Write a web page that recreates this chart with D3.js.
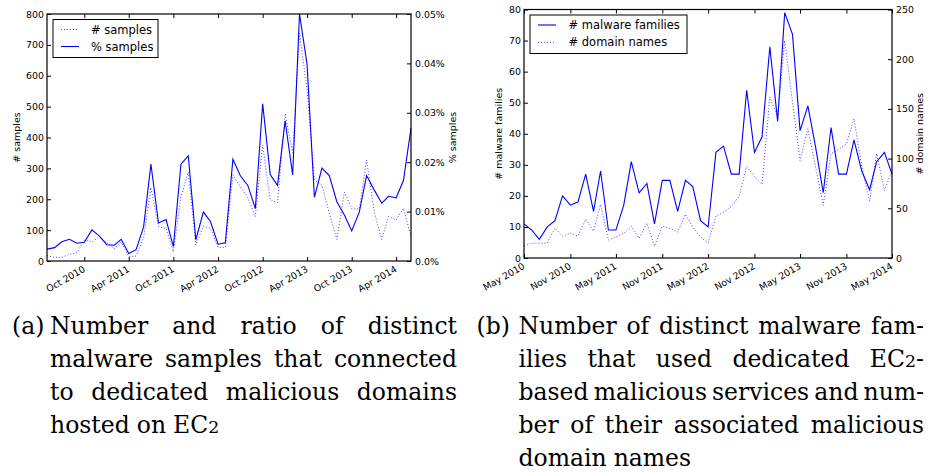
<!DOCTYPE html>
<html>
<head>
<meta charset="utf-8">
<script src="https://cdn.jsdelivr.net/npm/d3@7"></script>
<style>
body { margin: 0; background: #fff; }
svg text { font-family: "DejaVu Sans", sans-serif; fill: #000; }
svg text.cap { font-family: "DejaVu Serif", serif; font-size: 23.5px; }
</style>
</head>
<body>
<svg id="fig" width="929" height="473"></svg>
<script>
// monthly series, chart (a) starts May 2010 (50 months), chart (b) starts May 2010 (49 months)
var numSamples = [17,12,12,22,27,68,62,78,60,40,62,14,16,75,238,111,105,30,208,288,
    52,113,106,44,44,279,241,205,144,376,198,189,477,350,738,555,263,245,155,70,
    223,169,168,327,160,70,144,133,171,79];
var pctSamples = [0.0024,0.0027,0.0039,0.0044,0.0036,0.0038,0.0063,0.0051,0.0033,0.0032,
    0.0044,0.0015,0.0023,0.0069,0.0196,0.0077,0.0084,0.0029,0.0196,0.0213,
    0.0043,0.0099,0.0080,0.0034,0.0037,0.0206,0.0173,0.0153,0.0106,0.0318,
    0.0175,0.0153,0.0284,0.0174,0.0500,0.0398,0.0129,0.0188,0.0173,0.0120,
    0.0093,0.0061,0.0099,0.0173,0.0144,0.0117,0.0131,0.0128,0.0163,0.0269];
var malwareFamilies = [11,9,6,10,12,20,17,18,27,15,28,9,9,17,31,21,24,11,25,25,
    15,25,23,12,10,34,36,27,27,54,34,39,68,44,79,72,41,49,36,21,
    42,27,27,38,28,22,31,34,27];
var domainNames = [12,15,15,15,30,22,25,22,39,27,54,18,21,25,32,20,35,12,32,30,
    26,44,31,21,15,42,46,52,62,92,82,74,162,142,219,157,98,130,92,53,
    105,109,115,140,92,57,105,68,88];

var startMonth = "2010-05";
var ticksA = ["2010-10","2011-04","2011-10","2012-04","2012-10","2013-04","2013-10","2014-04"];
var ticksB = ["2010-05","2010-11","2011-05","2011-11","2012-05","2012-11","2013-05","2013-11","2014-05"];
var yTicksA = [0,100,200,300,400,500,600,700,800];
var yTicksA2 = [0,0.01,0.02,0.03,0.04,0.05];
var yTicksB = [0,10,20,30,40,50,60,70,80];
var yTicksB2 = [0,50,100,150,200,250];

var captionA = ["Number and ratio of distinct",
    "malware samples that connected",
    "to dedicated malicious domains",
    "hosted on EC2"];
var captionB = ["Number of distinct malware fam-",
    "ilies that used dedicated EC2-",
    "based malicious services and num-",
    "ber of their associated malicious",
    "domain names"];

var svg = d3.select("#fig");
var parseM = d3.timeParse("%Y-%m");
var fmt = d3.timeFormat("%b %Y");
var blue = "#0000ff";
var tickFont = "9.4px";

function monthOf(i) { return d3.timeMonth.offset(parseM(startMonth), i); }

function chart(o) {
    var g = svg.append("g");
    var n = o.left.values.length;
    var x = d3.scaleTime()
        .domain([monthOf(0), monthOf(n - 1)])
        .range([o.x0, o.x1]);
    var yL = d3.scaleLinear().domain(o.left.domain).range([o.y1, o.y0]);
    var yR = d3.scaleLinear().domain(o.right.domain).range([o.y1, o.y0]);

    // series
    [[o.left, yL], [o.right, yR]].forEach(function(s) {
        var line = d3.line()
            .x(function(d, i) { return x(monthOf(i)); })
            .y(function(d) { return s[1](d); });
        g.append("path")
            .datum(s[0].values)
            .attr("d", line)
            .attr("fill", "none")
            .attr("stroke", blue)
            .attr("stroke-width", s[0].dotted ? 1 : 1.1)
            .attr("stroke-opacity", s[0].dotted ? 0.75 : 1)
            .attr("stroke-dasharray", s[0].dotted ? "1,2" : null);
    });

    // axes, ticks inward
    var tk = 4;
    var xb = d3.axisBottom(x).tickValues(o.xTicks.map(parseM)).tickFormat(fmt).tickSizeInner(-tk).tickSizeOuter(0);
    var gx = g.append("g").attr("transform", "translate(0," + o.y1 + ")").call(xb);
    gx.selectAll("text")
        .style("font-size", tickFont)
        .attr("text-anchor", "end")
        .attr("y", 0).attr("dy", 0)
        .attr("transform", "translate(1,10) rotate(-30)");
    var xt = d3.axisTop(x).tickValues(o.xTicks.map(parseM)).tickFormat("").tickSizeInner(-tk).tickSizeOuter(0);
    g.append("g").attr("transform", "translate(0," + o.y0 + ")").call(xt);

    var al = d3.axisLeft(yL).tickValues(o.left.ticks).tickFormat(o.left.format).tickSizeInner(-tk).tickSizeOuter(0).tickPadding(3);
    g.append("g").attr("transform", "translate(" + o.x0 + ",0)").call(al)
        .selectAll("text").style("font-size", tickFont);
    var ar = d3.axisRight(yR).tickValues(o.right.ticks).tickFormat(o.right.format).tickSizeInner(-tk).tickSizeOuter(0).tickPadding(4);
    g.append("g").attr("transform", "translate(" + o.x1 + ",0)").call(ar)
        .selectAll("text").style("font-size", tickFont);

    g.selectAll(".domain").remove();
    g.selectAll(".tick line").attr("stroke", "#000");
    g.append("rect")
        .attr("x", o.x0).attr("y", o.y0)
        .attr("width", o.x1 - o.x0).attr("height", o.y1 - o.y0)
        .attr("fill", "none").attr("stroke", "#000").attr("stroke-width", 1.2);

    // axis titles
    var ym = (o.y0 + o.y1) / 2;
    g.append("text").attr("transform", "translate(" + o.labL + "," + ym + ") rotate(-90)")
        .attr("text-anchor", "middle").style("font-size", "9.5px").text(o.left.title);
    g.append("text").attr("transform", "translate(" + o.labR + "," + ym + ") rotate(-90)")
        .attr("text-anchor", "middle").style("font-size", "9.5px").text(o.right.title);

    // legend
    var L = o.legend;
    g.append("rect").attr("x", L.x).attr("y", L.y).attr("width", L.w).attr("height", L.h)
        .attr("fill", "#fff").attr("stroke", "#000").attr("stroke-width", 1);
    L.items.forEach(function(it, i) {
        var yy = L.y + L.row0 + i * L.rowH;
        g.append("line").attr("x1", L.x + 8).attr("x2", L.x + 26).attr("y1", yy).attr("y2", yy)
            .attr("stroke", blue).attr("stroke-width", it.dotted ? 1 : 1.1)
            .attr("stroke-opacity", it.dotted ? 0.75 : 1)
            .attr("stroke-dasharray", it.dotted ? "1,2" : null);
        g.append("text").attr("x", L.x + L.textDx).attr("y", yy).attr("dy", "0.35em")
            .style("font-size", "11.5px").text(it.name);
    });
}

chart({
    x0: 47, x1: 411, y0: 14, y1: 261,
    xTicks: ticksA,
    left: { values: numSamples, domain: [0, 800], ticks: yTicksA, format: d3.format("d"), title: "# samples", dotted: true },
    right: { values: pctSamples, domain: [0, 0.05], ticks: yTicksA2, format: function(d) { return (d === 0 ? "0.0" : d3.format(".2f")(d)) + "%"; }, title: "% samples", dotted: false },
    labL: 20, labR: 456,
    legend: { x: 53, y: 19.5, w: 105, h: 38, row0: 10, rowH: 17, textDx: 38,
        items: [{ name: "# samples", dotted: true }, { name: "% samples", dotted: false }] }
});

chart({
    x0: 524, x1: 892, y0: 9.5, y1: 258,
    xTicks: ticksB,
    left: { values: malwareFamilies, domain: [0, 80], ticks: yTicksB, format: d3.format("d"), title: "# malware families", dotted: false },
    right: { values: domainNames, domain: [0, 250], ticks: yTicksB2, format: d3.format("d"), title: "# domain names", dotted: true },
    labL: 502, labR: 923,
    legend: { x: 530, y: 15, w: 157, h: 38.5, row0: 10, rowH: 17.3, textDx: 38.5,
        items: [{ name: "# malware families", dotted: false }, { name: "# domain names", dotted: true }] }
});

// justified captions
function wordText(sel, w) {
    var k = w.indexOf("EC2");
    if (k < 0) { sel.text(w); return; }
    sel.append("tspan").text(w.slice(0, k + 2));
    sel.append("tspan").style("font-size", "0.74em").text("2");
    if (w.length > k + 3) sel.append("tspan").text(w.slice(k + 3));
}

function caption(labelX, x0, x1, base, lh, label, lines) {
    svg.append("text").attr("class", "cap").attr("x", labelX).attr("y", base).text(label);
    lines.forEach(function(line, li) {
        var y = base + li * lh;
        var words = line.split(" ");
        var nodes = words.map(function(w) {
            var t = svg.append("text").attr("class", "cap").attr("y", y);
            wordText(t, w);
            return t;
        });
        var widths = nodes.map(function(t) { return t.node().getComputedTextLength(); });
        var last = li === lines.length - 1;
        var gap = last ? 7 : (x1 - x0 - d3.sum(widths)) / (words.length - 1);
        var scale = 1;
        if (!last && gap < 4) {
            gap = 4;
            scale = (x1 - x0 - gap * (words.length - 1)) / d3.sum(widths);
        }
        var cx = x0;
        nodes.forEach(function(t, i) {
            t.attr("x", cx);
            if (scale !== 1) t.attr("textLength", widths[i] * scale).attr("lengthAdjust", "spacingAndGlyphs");
            cx += widths[i] * scale + gap;
        });
    });
}

caption(12, 50, 457, 333.5, 33, "(a)", captionA);
caption(476.5, 518.5, 924, 333.5, 33, "(b)", captionB);
</script>
</body>
</html>
